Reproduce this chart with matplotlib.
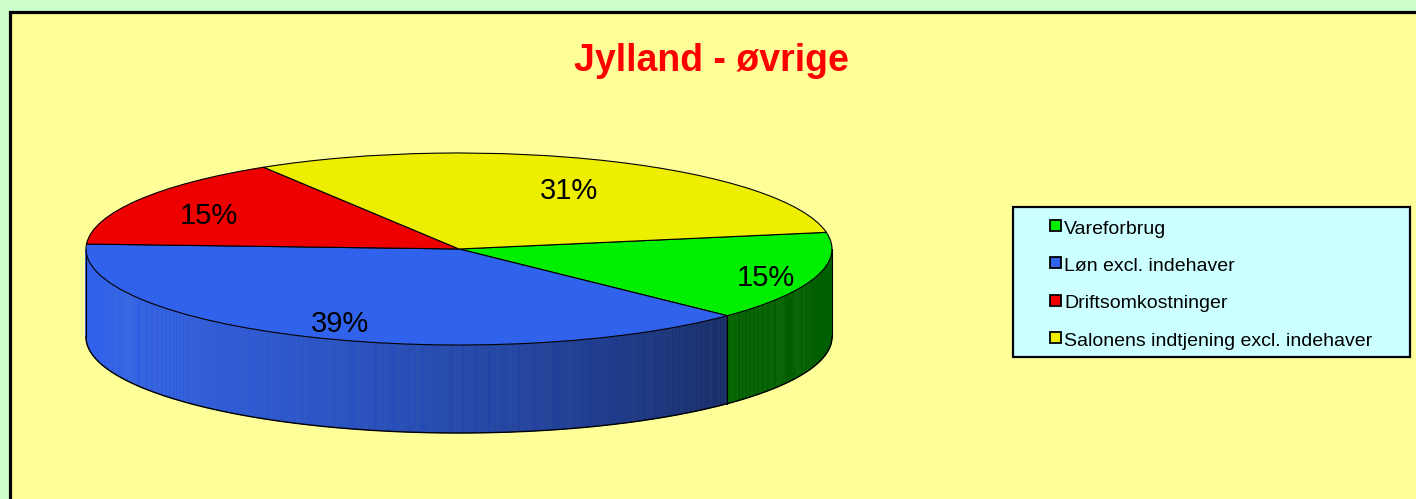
import numpy as np
import matplotlib.pyplot as plt
from matplotlib.patches import Rectangle, Polygon

# data
labels = ['Vareforbrug', 'Løn excl. indehaver', 'Driftsomkostninger',
          'Salonens indtjening excl. indehaver']
shares = [15.0, 38.6, 15.4, 31.0]
colors = ['#00EE00', '#3162EC', '#EE0000', '#EEEE00']
title = 'Jylland - øvrige'

plt.rcParams['font.family'] = ['Liberation Sans', 'DejaVu Sans']

W, H = 1416, 499
fig = plt.figure(figsize=(W / 100, H / 100), dpi=100, facecolor='#CCFFCC')

# background axes in pixel units
bg = fig.add_axes([0, 0, 1, 1])
bg.set_xlim(0, W)
bg.set_ylim(H, 0)
bg.axis('off')
bg.add_patch(Rectangle((9.5, 11.5), W, H, facecolor='#FFFF99',
                       edgecolor='black', lw=2.3))
bg.text(711, 61, title, ha='center', va='center', fontsize=27,
        fontweight='bold', color='#FF0000')

# legend box
bg.add_patch(Rectangle((1013, 207), 397, 150, facecolor='#CCFFFF',
                       edgecolor='black', lw=1.6))
for i, (lab, c) in enumerate(zip(labels, colors)):
    yc = 225.5 + i * 37.4
    bg.add_patch(Rectangle((1049.5, yc - 5.5), 11, 11, facecolor=c,
                           edgecolor='black', lw=1.3))
    bg.text(1064, yc + 8, lab, va='baseline', ha='left', fontsize=14,
            color='black')

# pie top face
ax = fig.add_axes([0, 0, 1, 1])
wedges, texts, autotexts = ax.pie(
    shares, colors=colors, startangle=10, counterclock=False,
    autopct='%1.0f%%', pctdistance=0.78,
    wedgeprops=dict(edgecolor='black', linewidth=0.8),
    textprops=dict(fontsize=21, color='black'))
ax.set_aspect('auto')
cx, cy, rx, ry = 459, 249, 373, 96
ax.set_xlim(-cx / rx, (W - cx) / rx)
ax.set_ylim(-(H - cy) / ry, cy / ry)
ax.axis('off')

# nudge the percentage labels like the original
label_r = [0.86, 0.80, 0.78, 0.72]
for w, txt, r in zip(wedges, autotexts, label_r):
    mid = np.radians((w.theta1 + w.theta2) / 2)
    txt.set_position((r * np.cos(mid), r * np.sin(mid) - 0.05))

# pie side (front half only)
depth = 88 / ry
bounds = 10 - 360 * np.concatenate([[0], np.cumsum(shares)]) / np.sum(shares)


def shade(x):
    k = np.clip((0.75 - x) / 1.75, 0, 1)
    return 0.4 + 0.6 * k ** 0.7


for i in range(len(shares)):
    lo = max(bounds[i + 1], -180)
    hi = min(bounds[i], 0)
    if lo >= hi:
        continue
    base = np.array(plt.matplotlib.colors.to_rgb(colors[i]))
    t = np.radians(np.linspace(lo, hi, int((hi - lo) * 3) + 2))
    for a, b in zip(t[:-1], t[1:]):
        xs = [np.cos(a), np.cos(b), np.cos(b), np.cos(a)]
        ys = [np.sin(a), np.sin(b), np.sin(b) - depth, np.sin(a) - depth]
        col = base * shade((np.cos(a) + np.cos(b)) / 2)
        ax.add_patch(Polygon(list(zip(xs, ys)), closed=True, facecolor=col,
                             edgecolor=col, lw=0.4, zorder=0.5))

tt = np.radians(np.linspace(-180, 0, 300))
ax.plot(np.cos(tt), np.sin(tt) - depth, color='black', lw=1.0, zorder=0.8)
for x in (-1, 1):
    ax.plot([x, x], [0, -depth], color='black', lw=0.8, zorder=0.8)
for bnd in bounds:
    if -180 < bnd < 0:
        r = np.radians(bnd)
        ax.plot([np.cos(r)] * 2, [np.sin(r), np.sin(r) - depth],
                color='black', lw=0.8, zorder=0.8)

fig.savefig('out.png', dpi=100, facecolor=fig.get_facecolor())
